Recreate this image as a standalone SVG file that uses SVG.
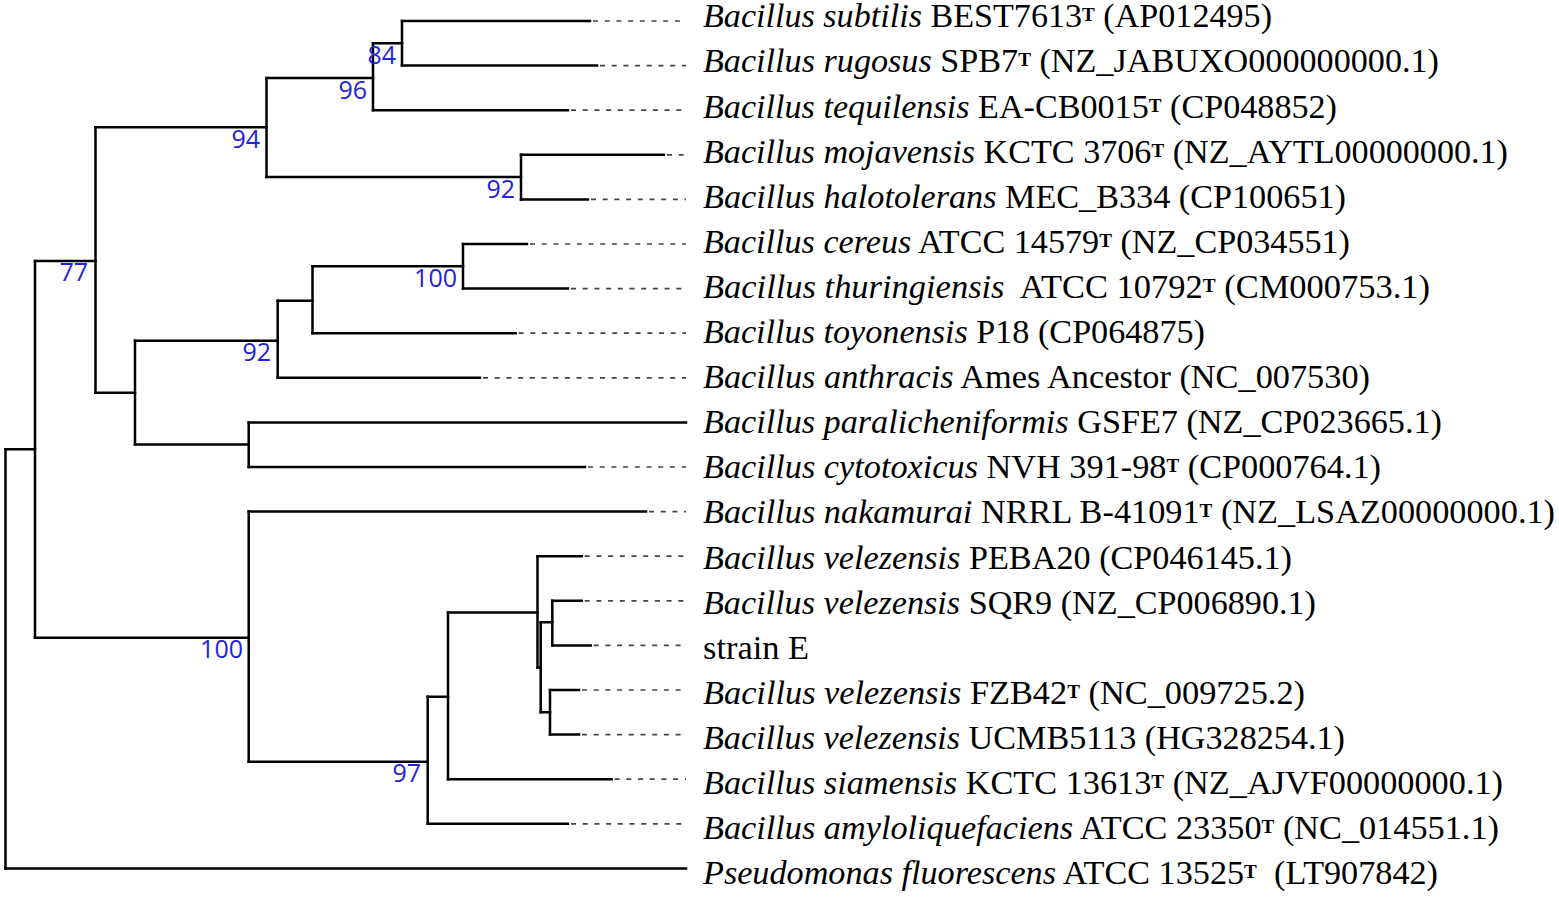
<svg xmlns="http://www.w3.org/2000/svg" width="1559" height="900" viewBox="0 0 1559 900">
<style>
.br{fill:none;stroke:#000;stroke-width:2.5;stroke-linecap:square}
.dash{fill:none;stroke:#444;stroke-width:1.7;stroke-dasharray:5 6.7}
.lb{font-family:"Liberation Serif","Times New Roman",serif;font-size:34px;fill:#000}
.i{font-style:italic}
.sup{font-size:19px;font-weight:bold}
.bs{font-family:"Open Sans","Liberation Sans",sans-serif;font-size:25px;fill:#2222dd;text-anchor:end}
</style>
<rect width="1559" height="900" fill="#fff"/>
<g id="connectors">
<path class="br" d="M402,21V65.6 M373,43.3V110.2 M521,154.8V199.4 M266.5,78V177 M463,244V288.6 M312.5,266.3V333.2 M277.7,300.7V377.8 M248.7,422.4V467 M135,340.7V444.5 M95.5,127.3V392.7 M537.5,556.2V667.5 M540.7,622.3V712.3 M552.3,600.8V645.4 M550,690V734.6 M448,612.5V779.2 M427.7,696.7V823.8 M248.7,511.6V761.7 M35,261V637.7 M5.5,449.3V868.4"/>
<path class="br" d="M373,43.3H402 M266.5,78H373 M266.5,177H521 M95.5,127.3H266.5 M312.5,266.3H463 M277.7,300.7H312.5 M135,340.7H277.7 M135,444.5H248.7 M95.5,392.7H135 M35,261H95.5 M540.7,622.3H552.3 M537.5,667.5H540.7 M540.7,712.3H550 M448,612.5H537.5 M427.7,696.7H448 M248.7,761.7H427.7 M35,637.7H248.7 M5.5,449.3H35"/>
<path class="br" d="M402,21H590 M402,65.6H597 M373,110.2H568 M521,154.8H664 M521,199.4H588 M463,244H527 M463,288.6H568 M312.5,333.2H515.6 M277.7,377.8H480 M248.7,422.4H686 M248.7,467H585 M248.7,511.6H646 M537.5,556.2H581.7 M552.3,600.8H581.7 M552.3,645.4H590.7 M550,690H579 M550,734.6H579 M448,779.2H611.6 M427.7,823.8H568 M5.5,868.4H686"/>
<path class="dash" d="M593,21H686 M600,65.6H686 M571,110.2H686 M667,154.8H686 M591,199.4H686 M530,244H686 M571,288.6H686 M518.6,333.2H686 M483,377.8H686 M588,467H686 M649,511.6H686 M584.7,556.2H686 M584.7,600.8H686 M593.7,645.4H686 M582,690H686 M582,734.6H686 M614.6,779.2H686 M571,823.8H686"/>
</g>
<g id="bootstrap">
<text class="bs" x="396" y="64">84</text>
<text class="bs" x="367" y="98.5">96</text>
<text class="bs" x="260" y="147.5">94</text>
<text class="bs" x="515" y="197.5">92</text>
<text class="bs" x="88" y="281">77</text>
<text class="bs" x="457" y="287">100</text>
<text class="bs" x="271" y="361">92</text>
<text class="bs" x="243" y="658">100</text>
<text class="bs" x="421" y="782">97</text>
</g>
<g id="leaf-subtilis"><text class="lb" xml:space="preserve" x="703" y="27.3" textLength="569" lengthAdjust="spacingAndGlyphs"><tspan class="i">Bacillus subtilis</tspan> BEST7613<tspan class="sup" dy="-6">T</tspan><tspan dy="6"> (AP012495)</tspan></text></g>
<g id="leaf-rugosus"><text class="lb" xml:space="preserve" x="703" y="72.4" textLength="736" lengthAdjust="spacingAndGlyphs"><tspan class="i">Bacillus rugosus</tspan> SPB7<tspan class="sup" dy="-6">T</tspan><tspan dy="6"> (NZ_JABUXO000000000.1)</tspan></text></g>
<g id="leaf-tequilensis"><text class="lb" xml:space="preserve" x="703" y="117.5" textLength="634" lengthAdjust="spacingAndGlyphs"><tspan class="i">Bacillus tequilensis</tspan> EA-CB0015<tspan class="sup" dy="-6">T</tspan><tspan dy="6"> (CP048852)</tspan></text></g>
<g id="leaf-mojavensis"><text class="lb" xml:space="preserve" x="703" y="162.6" textLength="805" lengthAdjust="spacingAndGlyphs"><tspan class="i">Bacillus mojavensis</tspan> KCTC 3706<tspan class="sup" dy="-6">T</tspan><tspan dy="6"> (NZ_AYTL00000000.1)</tspan></text></g>
<g id="leaf-halotolerans"><text class="lb" xml:space="preserve" x="703" y="207.7" textLength="643" lengthAdjust="spacingAndGlyphs"><tspan class="i">Bacillus halotolerans</tspan> MEC_B334 (CP100651)</text></g>
<g id="leaf-cereus"><text class="lb" xml:space="preserve" x="703" y="252.8" textLength="647" lengthAdjust="spacingAndGlyphs"><tspan class="i">Bacillus cereus</tspan> ATCC 14579<tspan class="sup" dy="-6">T</tspan><tspan dy="6"> (NZ_CP034551)</tspan></text></g>
<g id="leaf-thuringiensis"><text class="lb" xml:space="preserve" x="703" y="297.9" textLength="727" lengthAdjust="spacingAndGlyphs"><tspan class="i">Bacillus thuringiensis</tspan>  ATCC 10792<tspan class="sup" dy="-6">T</tspan><tspan dy="6"> (CM000753.1)</tspan></text></g>
<g id="leaf-toyonensis"><text class="lb" xml:space="preserve" x="703" y="343" textLength="502" lengthAdjust="spacingAndGlyphs"><tspan class="i">Bacillus toyonensis</tspan> P18 (CP064875)</text></g>
<g id="leaf-anthracis"><text class="lb" xml:space="preserve" x="703" y="388.1" textLength="667" lengthAdjust="spacingAndGlyphs"><tspan class="i">Bacillus anthracis</tspan> Ames Ancestor (NC_007530)</text></g>
<g id="leaf-paralicheniformis"><text class="lb" xml:space="preserve" x="703" y="433.2" textLength="739" lengthAdjust="spacingAndGlyphs"><tspan class="i">Bacillus paralicheniformis</tspan> GSFE7 (NZ_CP023665.1)</text></g>
<g id="leaf-cytotoxicus"><text class="lb" xml:space="preserve" x="703" y="478.3" textLength="678" lengthAdjust="spacingAndGlyphs"><tspan class="i">Bacillus cytotoxicus</tspan> NVH 391-98<tspan class="sup" dy="-6">T</tspan><tspan dy="6"> (CP000764.1)</tspan></text></g>
<g id="leaf-nakamurai"><text class="lb" xml:space="preserve" x="703" y="523.4" textLength="852" lengthAdjust="spacingAndGlyphs"><tspan class="i">Bacillus nakamurai</tspan> NRRL B-41091<tspan class="sup" dy="-6">T</tspan><tspan dy="6"> (NZ_LSAZ00000000.1)</tspan></text></g>
<g id="leaf-peba20"><text class="lb" xml:space="preserve" x="703" y="568.5" textLength="589" lengthAdjust="spacingAndGlyphs"><tspan class="i">Bacillus velezensis</tspan> PEBA20 (CP046145.1)</text></g>
<g id="leaf-sqr9"><text class="lb" xml:space="preserve" x="703" y="613.6" textLength="613" lengthAdjust="spacingAndGlyphs"><tspan class="i">Bacillus velezensis</tspan> SQR9 (NZ_CP006890.1)</text></g>
<g id="leaf-strainE"><text class="lb" xml:space="preserve" x="703" y="658.7" textLength="106" lengthAdjust="spacingAndGlyphs">strain E</text></g>
<g id="leaf-fzb42"><text class="lb" xml:space="preserve" x="703" y="703.8" textLength="602" lengthAdjust="spacingAndGlyphs"><tspan class="i">Bacillus velezensis</tspan> FZB42<tspan class="sup" dy="-6">T</tspan><tspan dy="6"> (NC_009725.2)</tspan></text></g>
<g id="leaf-ucmb5113"><text class="lb" xml:space="preserve" x="703" y="748.9" textLength="642" lengthAdjust="spacingAndGlyphs"><tspan class="i">Bacillus velezensis</tspan> UCMB5113 (HG328254.1)</text></g>
<g id="leaf-siamensis"><text class="lb" xml:space="preserve" x="703" y="794" textLength="800" lengthAdjust="spacingAndGlyphs"><tspan class="i">Bacillus siamensis</tspan> KCTC 13613<tspan class="sup" dy="-6">T</tspan><tspan dy="6"> (NZ_AJVF00000000.1)</tspan></text></g>
<g id="leaf-amyloliquefaciens"><text class="lb" xml:space="preserve" x="703" y="839.1" textLength="796" lengthAdjust="spacingAndGlyphs"><tspan class="i">Bacillus amyloliquefaciens</tspan> ATCC 23350<tspan class="sup" dy="-6">T</tspan><tspan dy="6"> (NC_014551.1)</tspan></text></g>
<g id="leaf-pseudomonas"><text class="lb" xml:space="preserve" x="703" y="884.2" textLength="735" lengthAdjust="spacingAndGlyphs"><tspan class="i">Pseudomonas fluorescens</tspan> ATCC 13525<tspan class="sup" dy="-6">T</tspan><tspan dy="6">  (LT907842)</tspan></text></g>
</svg>
